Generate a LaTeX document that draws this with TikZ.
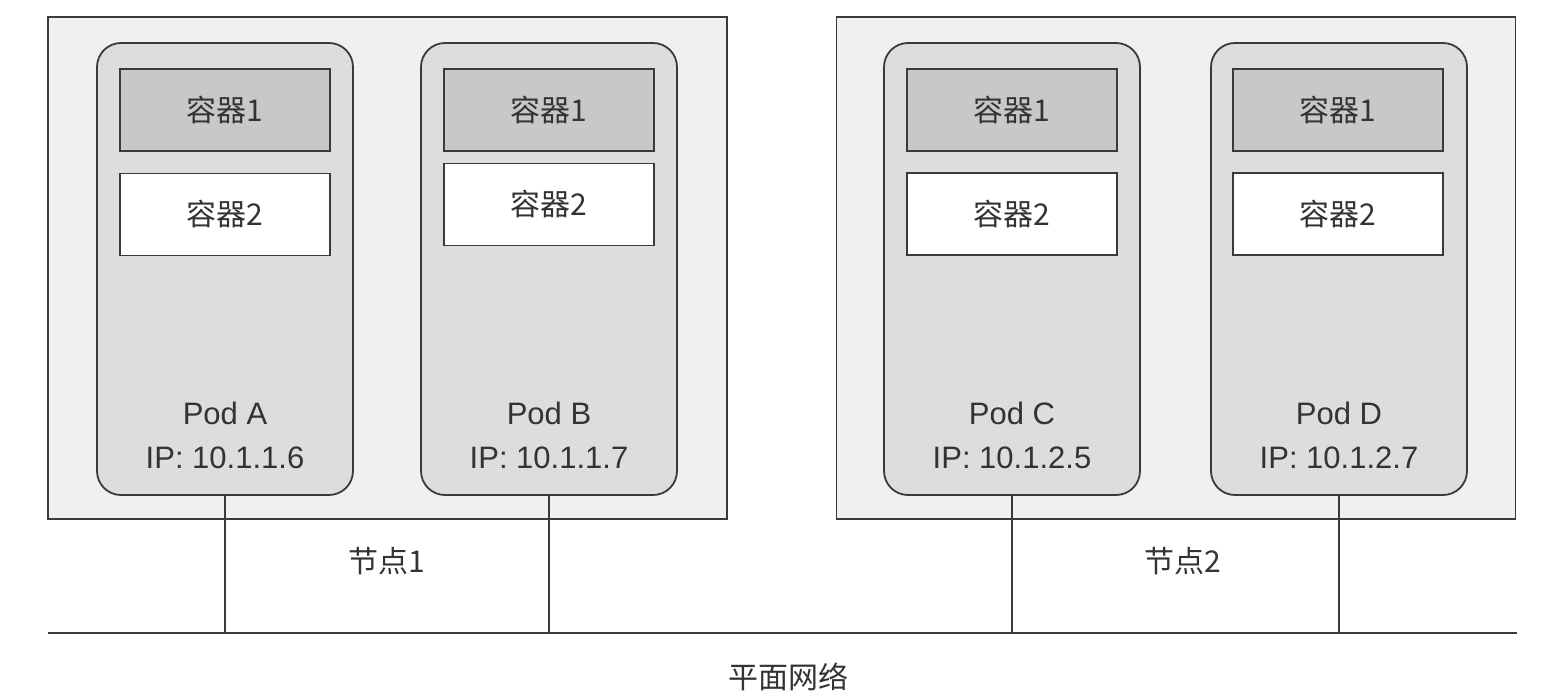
\documentclass[tikz,border=0pt]{standalone}
\usepackage{fontspec}
\setmainfont{Liberation Sans}
\newfontfamily\cjk{Noto Sans CJK SC}
\definecolor{linegray}{HTML}{3A3A3A}
\definecolor{textgray}{HTML}{333333}
\definecolor{nodefill}{HTML}{F0F0F0}
\definecolor{podfill}{HTML}{DDDDDD}
\definecolor{ctrfill}{HTML}{C8C8C8}
\begin{document}
\begin{tikzpicture}[x=1pt,y=-1pt,
  nodebox/.style={draw=linegray, line width=1.5pt, fill=nodefill,
    minimum width=679pt, minimum height=502pt, inner sep=0pt},
  podbox/.style={draw=linegray, line width=1.8pt, fill=podfill, rounded corners=24pt,
    minimum width=256pt, minimum height=452pt, inner sep=0pt},
  ctrone/.style={draw=linegray, line width=1.6pt, fill=ctrfill,
    minimum width=210pt, minimum height=82pt, inner sep=0pt,
    text=textgray, font=\cjk\fontsize{30}{32}\selectfont},
  ctrtwo/.style={ctrone, fill=white},
  podlabel/.style={align=center, text=textgray, font=\fontsize{31}{44}\selectfont},
  cjklabel/.style={text=textgray, font=\cjk\fontsize{30}{32}\selectfont},
  wire/.style={draw=linegray, line width=1.5pt}
]
\useasboundingbox (0,0) rectangle (1568,698);

% worker nodes
\node[nodebox] (node1) at (387.5,268) {};
\node[nodebox] (node2) at (1176,268) {};

% pods
\node[podbox] (podA) at (225,269) {};
\node[podbox] (podB) at (549,269) {};
\node[podbox] (podC) at (1012,269) {};
\node[podbox] (podD) at (1339,269) {};

% containers
\node[ctrone] (a1) at (225,110) {容器1};
\node[ctrtwo] (a2) at (225,214.5) {容器2};
\node[ctrone] (b1) at (549,110) {容器1};
\node[ctrtwo] (b2) at (549,204.5) {容器2};
\node[ctrone] (c1) at (1012,110) {容器1};
\node[ctrtwo] (c2) at (1012,214) {容器2};
\node[ctrone] (d1) at (1338,110) {容器1};
\node[ctrtwo] (d2) at (1338,214) {容器2};

% pod names and addresses
\node[podlabel] (la) at (225,435) {Pod A\\IP: 10.1.1.6};
\node[podlabel] (lb) at (549,435) {Pod B\\IP: 10.1.1.7};
\node[podlabel] (lc) at (1012,435) {Pod C\\IP: 10.1.2.5};
\node[podlabel] (ld) at (1339,435) {Pod D\\IP: 10.1.2.7};

% node names
\node[cjklabel] (n1) at (387,561) {节点1};
\node[cjklabel] (n2) at (1183,561) {节点2};

% flat network
\coordinate (netL) at (48,633);
\coordinate (netR) at (1517,633);
\draw[wire] (netL) -- (netR);
\foreach \p in {podA,podB,podC,podD}
  \draw[wire] (\p.south) -- (\p.south |- netL);
\node[cjklabel] (net) at (788,677) {平面网络};
\end{tikzpicture}
\end{document}
